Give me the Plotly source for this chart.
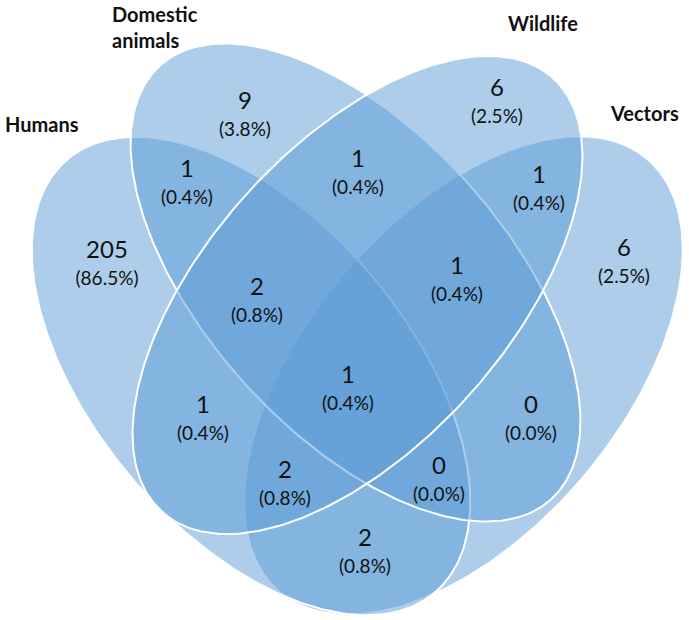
import numpy as np
import plotly.graph_objects as go

# ---- data ----
set_names = ["Humans", "Domestic<br>animals", "Wildlife", "Vectors"]
region_keys = ["H", "D", "W", "V", "HD", "DW", "WV", "HDW", "DWV", "HDWV",
               "HW", "DV", "HWV", "HDV", "HV"]
region_counts = [205, 9, 6, 6, 1, 1, 1, 2, 1, 1, 1, 0, 2, 0, 2]
region_pcts = ["86.5%", "3.8%", "2.5%", "2.5%", "0.4%", "0.4%", "0.4%", "0.8%",
               "0.4%", "0.4%", "0.4%", "0.0%", "0.8%", "0.0%", "0.8%"]

# ---- layout geometry (pixel-like coordinates, y downward) ----
W_PX, H_PX = 689, 620
# ellipse: centre x, centre y, semi-major, semi-minor, angle (deg, screen)
ellipses = {
    "Vectors":  (463.5, 375.5, 284, 157, 180 - 49.7),
    "Humans":   (251.0, 376.0, 284, 157, 49.7),
    "Domestic": (355.5, 282.5, 292, 150, 48.0),
    "Wildlife": (357.5, 295.0, 292, 150, 180 - 48.0),
}
draw_order = ["Vectors", "Humans", "Domestic", "Wildlife"]

region_anchor = {
    "H": (107, 266), "D": (245, 117), "W": (497, 104), "V": (624, 264),
    "HD": (187, 185), "DW": (358, 175), "WV": (539, 191), "HDW": (257, 303),
    "DWV": (457, 282), "HDWV": (348, 391), "HW": (203, 421), "DV": (531, 421),
    "HWV": (285, 486), "HDV": (439, 482), "HV": (365, 554),
}
label_pos = [(42, 124), (110, 27), (543, 23), (644, 113)]

fill_col = "rgba(91,155,213,0.5)"
font_family = "Lato, 'Open Sans', sans-serif"

fig = go.Figure()

t = np.linspace(0, 2 * np.pi, 361)
for name in draw_order:
    cx, cy, a, b, ang = ellipses[name]
    th = np.deg2rad(ang)
    xs = cx + a * np.cos(t) * np.cos(th) - b * np.sin(t) * np.sin(th)
    ys = cy + a * np.cos(t) * np.sin(th) + b * np.sin(t) * np.cos(th)
    fig.add_trace(go.Scatter(
        x=xs, y=ys, mode="lines", fill="toself", fillcolor=fill_col,
        line=dict(color="white", width=2), hoverinfo="skip", showlegend=False,
        name=name,
    ))

nx = [region_anchor[k][0] for k in region_keys]
ny = [region_anchor[k][1] for k in region_keys]

fig.add_trace(go.Scatter(
    x=nx, y=[v - 14 for v in ny], mode="text",
    text=[str(c) for c in region_counts],
    textfont=dict(family=font_family, size=24, color="#111111"),
    textposition="middle center", hoverinfo="skip", showlegend=False,
))
fig.add_trace(go.Scatter(
    x=nx, y=[v + 14 for v in ny], mode="text",
    text=["(" + p + ")" for p in region_pcts],
    textfont=dict(family=font_family, size=19, color="#111111"),
    textposition="middle center", hoverinfo="skip", showlegend=False,
))

# set labels
aligns = ["center", "left", "center", "center"]
for name, (lx, ly), al in zip(set_names, label_pos, aligns):
    fig.add_annotation(
        x=lx, y=ly, text="<b>" + name + "</b>", showarrow=False,
        xanchor="left" if al == "left" else "center", yanchor="middle",
        align=al,
        font=dict(family=font_family, size=20, color="#111111"),
    )

fig.update_layout(
    width=W_PX, height=H_PX,
    margin=dict(l=0, r=0, t=0, b=0),
    paper_bgcolor="white", plot_bgcolor="white",
    xaxis=dict(range=[0, W_PX], visible=False, fixedrange=True),
    yaxis=dict(range=[H_PX, 0], visible=False, fixedrange=True),
    showlegend=False,
)

fig.write_html(
    "out.html",
    config={"displayModeBar": False},
    post_script="document.body.style.margin='0';document.body.style.overflow='hidden';",
)
